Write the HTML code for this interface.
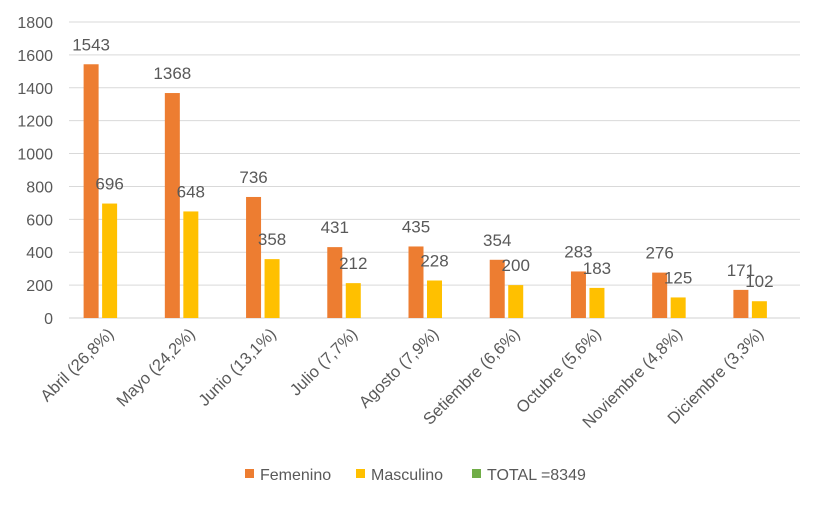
<!DOCTYPE html>
<html><head><meta charset="utf-8"><style>
body{margin:0;background:#fff;font-family:"Liberation Sans",sans-serif}
text{font-family:"Liberation Sans",sans-serif;fill:#595959}
</style></head><body>
<svg width="824" height="505">
<g id="grid"></g>
<g id="yt"></g>
<g id="bars"></g>
<g id="xl"></g>
<g>
<g><rect x="245" y="469" width="9" height="9" fill="#ED7D31"/><text x="260" y="480" font-size="16">Femenino</text></g>
<g><rect x="356" y="469" width="9" height="9" fill="#FFC000"/><text x="371" y="480" font-size="16">Masculino</text></g>
<g><rect x="472" y="469" width="9" height="9" fill="#70AD47"/><text x="487" y="480" font-size="16">TOTAL =8349</text></g>
</g>
</svg>
<script>
const categories=["Abril (26,8%)","Mayo (24,2%)","Junio (13,1%)","Julio (7,7%)","Agosto (7,9%)","Setiembre (6,6%)","Octubre (5,6%)","Noviembre (4,8%)","Diciembre (3,3%)"];
const femenino=[1543,1368,736,431,435,354,283,276,171];
const masculino=[696,648,358,212,228,200,183,125,102];
const yTicks=[0,200,400,600,800,1000,1200,1400,1600,1800];
const NS="http://www.w3.org/2000/svg";
const L=69,R=800,T=22,B=318,YMAX=1800;
const y=v=>B-(v/YMAX)*(B-T);
const cw=(R-L)/categories.length;
const xc=i=>L+cw*(i+0.5);
function mk(tag,attrs,parent){const e=document.createElementNS(NS,tag);for(const k in attrs)e.setAttribute(k,attrs[k]);parent.appendChild(e);return e;}
const grid=document.getElementById('grid'),yt=document.getElementById('yt'),bars=document.getElementById('bars'),xl=document.getElementById('xl');
yTicks.forEach(t=>{
 const l=mk('line',{x1:L,x2:R,y1:y(t),y2:y(t),stroke:t===0?'#d0d0d0':'#d9d9d9','stroke-width':1},grid);
 
 
 const tx=mk('text',{x:53,y:y(t)+6,'text-anchor':'end','font-size':16},yt);
 tx.textContent=t;
 
 
});
const bw=15,pitch=18.5;
categories.forEach((c,i)=>{
 [[femenino,'#ED7D31',-1,'femenino'],[masculino,'#FFC000',0,'masculino']].forEach(([arr,col,off,nm])=>{
  const cx=xc(i)+off*pitch;
  const r=mk('rect',{x:cx-bw/2,y:y(arr[i]),width:bw,height:B-y(arr[i]),fill:col},bars);
  
  
  const t=mk('text',{x:cx,y:y(arr[i])-14,'text-anchor':'middle','font-size':17,fill:'#404040'},bars);
  t.textContent=arr[i];
  
  
 });
 const tx=mk('text',{'text-anchor':'end','font-size':16.5,transform:`translate(${xc(i)+5},${B+17}) rotate(-45)`},xl);
 tx.textContent=c;
 
 
});
</script>
</body></html>
